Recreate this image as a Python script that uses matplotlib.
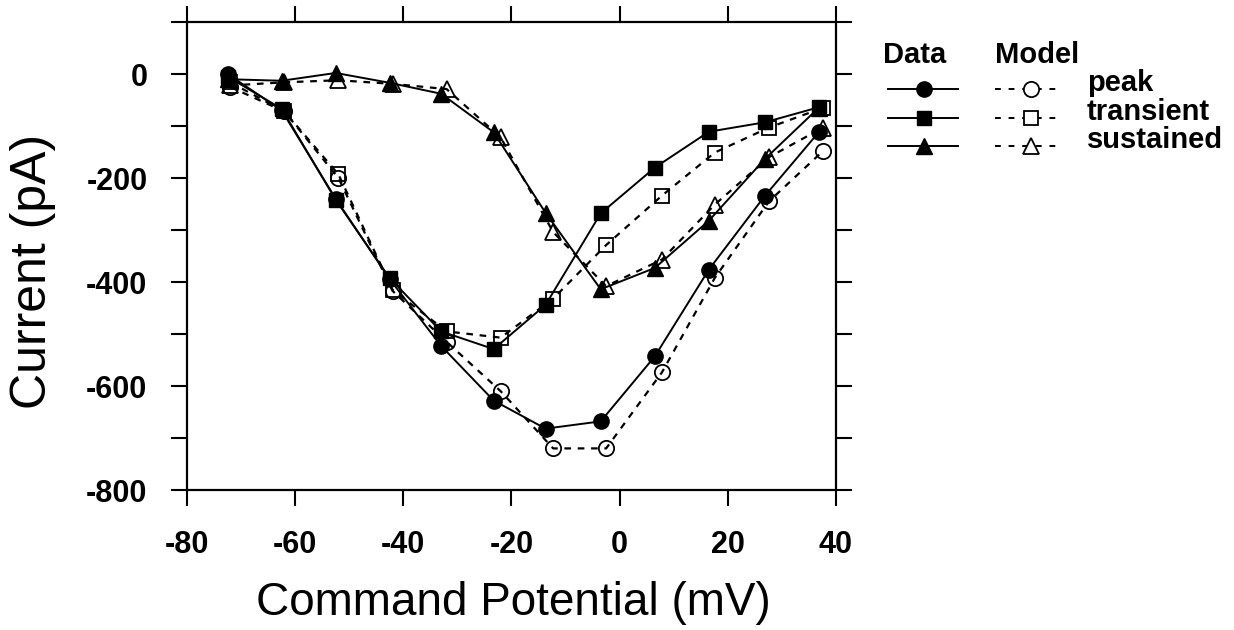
import matplotlib
matplotlib.use("Agg")
import matplotlib.pyplot as plt
from matplotlib.ticker import MultipleLocator

plt.rcParams["font.family"] = ["Liberation Sans", "DejaVu Sans"]
plt.rcParams["axes.unicode_minus"] = False

# command potential (mV) for data and model points
x_data = [-72.5, -62.5, -52.5, -42.5, -33, -23.3, -13.7, -3.5, 6.5, 16.5, 26.8, 36.8]
x_model = [-72, -62, -52, -42, -32, -22, -12.3, -2.5, 7.8, 17.6, 27.6, 37.6]

peak_data = [0, -70, -240, -395, -523, -628, -682, -668, -543, -376, -235, -112]
peak_model = [-25, -72, -200, -417, -515, -610, -720, -720, -574, -392, -245, -148]
transient_data = [-5, -67, -242, -393, -495, -529, -444, -268, -180, -111, -93, -64]
transient_model = [-16, -72, -193, -415, -495, -507, -432, -329, -234, -151, -103, -65]
sustained_data = [-10, -13, 2, -17, -38, -112, -267, -414, -373, -282, -164, -65]
sustained_model = [-22, -16, -12, -19, -29, -122, -304, -408, -357, -251, -160, -103]

series_names = ["peak", "transient", "sustained"]
series_markers = ["o", "s", "^"]
marker_sizes = [11, 10.5, 12]

W, H = 1234, 630
fig = plt.figure(figsize=(W / 100, H / 100), dpi=100)
ax = fig.add_axes([187 / W, 1 - 490 / H, (836 - 187) / W, (490 - 22) / H])

data_sets = [peak_data, transient_data, sustained_data]
model_sets = [peak_model, transient_model, sustained_model]

for ys, m, ms in zip(data_sets, series_markers, marker_sizes):
    ax.plot(x_data, ys, color="black", lw=1.4, marker=m, ms=ms,
            mfc="black", mec="black", zorder=3)
for ys, m, ms in zip(model_sets, series_markers, marker_sizes):
    ax.plot(x_model, ys, color="black", lw=1.6, ls=(0, (3, 3)), marker=m, ms=ms,
            mfc="none", mec="black", mew=1.3, zorder=2)

ax.set_xlim(-80, 40)
ax.set_ylim(-800, 100)
ax.xaxis.set_major_locator(MultipleLocator(20))
ax.yaxis.set_major_locator(MultipleLocator(200))
ax.yaxis.set_minor_locator(MultipleLocator(100))
ax.tick_params(which="both", direction="out", length=11.5, width=1.5,
               top=True, right=True, labelsize=22)
ax.tick_params(axis="x", pad=17)
ax.tick_params(axis="y", pad=17)
for lab in ax.get_xticklabels() + ax.get_yticklabels():
    lab.set_fontweight("bold")
for s in ax.spines.values():
    s.set_linewidth(1.6)

fig.text(513 / W, 1 - 603 / H, "Command Potential (mV)", fontsize=33,
         ha="center", va="center")
fig.text(33 / W, 1 - 271 / H, "Current (pA)", fontsize=36, rotation=90,
         ha="center", va="center")

# hand-drawn legend in figure pixel space
lg = fig.add_axes([0, 0, 1, 1])
lg.set_xlim(0, W)
lg.set_ylim(H, 0)
lg.axis("off")
lg.text(883, 55, "Data", fontsize=21, fontweight="bold", va="center", ha="left")
lg.text(995, 55, "Model", fontsize=21, fontweight="bold", va="center", ha="left")
rows_y = [89, 118, 146]
for yy, m, ms, name in zip(rows_y, series_markers, marker_sizes, series_names):
    lg.plot([888, 958], [yy, yy], color="black", lw=1.4)
    lg.plot([924], [yy], marker=m, ms=ms, color="black")
    lg.plot([995, 1062], [yy, yy], color="black", lw=1.4, ls=(0, (3, 4)))
    lg.plot([1031], [yy], marker=m, ms=ms, mfc="white", mec="black", mew=1.3)
    lg.text(1087, yy - 6, name, fontsize=21, fontweight="bold", va="center", ha="left")

fig.savefig("out.png", dpi=100, facecolor="white")
